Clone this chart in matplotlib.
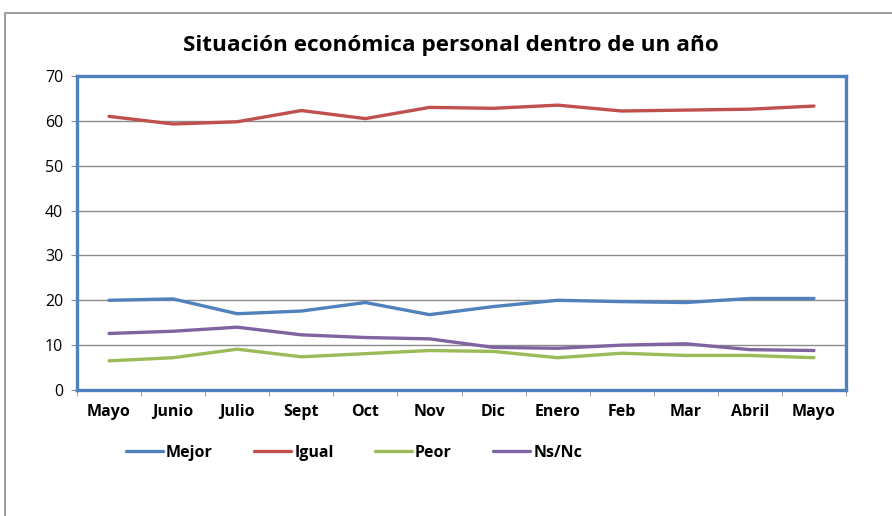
import matplotlib.pyplot as plt
from matplotlib.patches import Rectangle

plt.rcParams['font.family'] = ['Open Sans', 'DejaVu Sans']

meses = ['Mayo', 'Junio', 'Julio', 'Sept', 'Oct', 'Nov', 'Dic', 'Enero', 'Feb', 'Mar', 'Abril', 'Mayo']
mejor = [20.0, 20.3, 17.0, 17.6, 19.5, 16.8, 18.6, 20.0, 19.7, 19.5, 20.4, 20.4]
igual = [61.0, 59.3, 59.8, 62.3, 60.5, 63.0, 62.8, 63.5, 62.2, 62.4, 62.6, 63.3]
peor = [6.5, 7.2, 9.1, 7.4, 8.1, 8.8, 8.6, 7.2, 8.2, 7.7, 7.7, 7.2]
nsnc = [12.6, 13.1, 14.0, 12.3, 11.7, 11.4, 9.5, 9.3, 10.0, 10.3, 9.0, 8.8]

series = [('Mejor', mejor, '#4F81BD'), ('Igual', igual, '#C0504D'),
          ('Peor', peor, '#9BBB59'), ('Ns/Nc', nsnc, '#8064A2')]

fig = plt.figure(figsize=(8.92, 5.16), dpi=100)
# marco del gráfico (recortado)
fig.patches.append(Rectangle((5 / 892, -0.1), 1.2, 1 - 13 / 516 + 0.1, transform=fig.transFigure,
                             fill=False, edgecolor='#8c8c8c', linewidth=1.2))

ax = fig.add_axes([77 / 892, 1 - 390 / 516, 769 / 892, 314 / 516])
x = range(len(meses))
for nombre, vals, color in series:
    ax.plot(x, vals, color=color, linewidth=2.4, label=nombre, solid_capstyle='round')

ax.set_xlim(-0.5, len(meses) - 0.5)
ax.set_ylim(0, 70)
ax.set_yticks(range(0, 71, 10))
ax.grid(axis='y', color='#8c8c8c', linewidth=1)
ax.set_axisbelow(True)
for s in ax.spines.values():
    s.set_color('#4F81BD')
    s.set_linewidth(2.4)

ax.set_xticks(list(x))
ax.set_xticklabels(meses, fontsize=11.5, fontweight='bold')
ax.tick_params(axis='x', length=0, pad=10)
ax.set_xticks([i - 0.5 for i in range(len(meses) + 1)], minor=True)
ax.tick_params(axis='x', which='minor', length=4, color='#8c8c8c', direction='out')
ax.tick_params(axis='y', length=4, color='#8c8c8c', labelsize=11.5, pad=6)

fig.text(0.505, 1 - 46 / 516, 'Situación económica personal dentro de un año',
         ha='center', va='center', fontsize=16.2, fontweight='bold')

fig.legend(loc='center', bbox_to_anchor=(0.397, 1 - 453 / 516), ncol=4, frameon=False,
           handlelength=2.3, handletextpad=0.2, columnspacing=2.6,
           prop={'weight': 'bold', 'size': 11.5})

fig.savefig('out.png', dpi=100)
